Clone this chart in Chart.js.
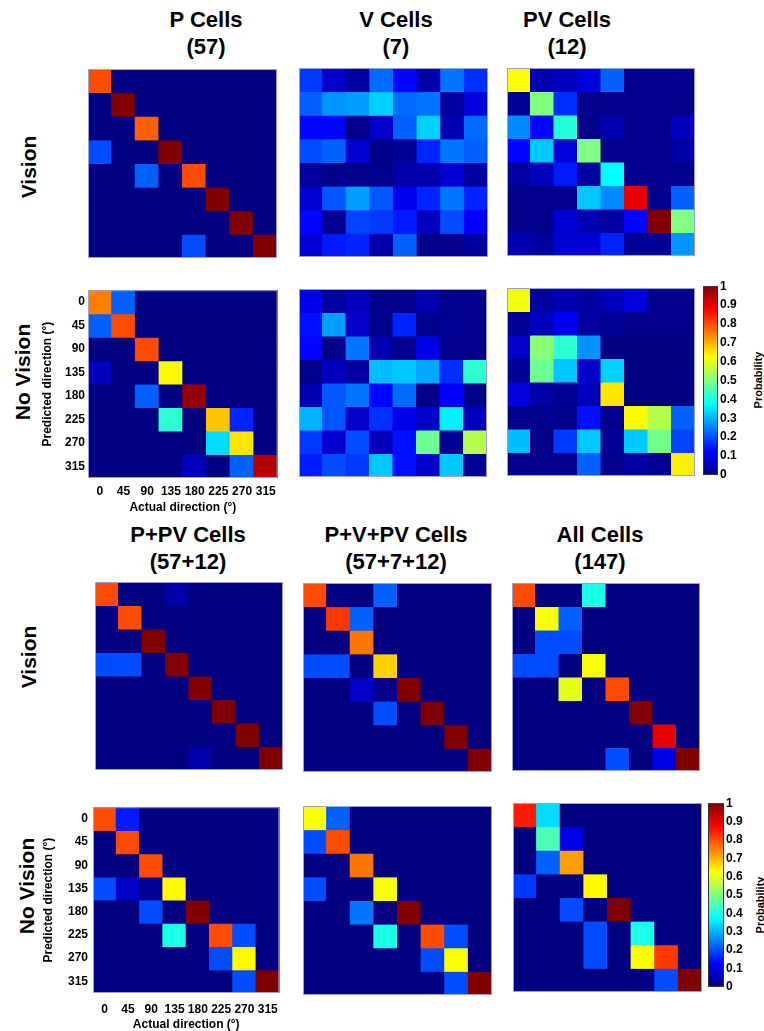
<!DOCTYPE html>
<html>
<head>
<meta charset="utf-8">
<script src="https://cdn.jsdelivr.net/npm/chart.js@4.4.1/dist/chart.umd.min.js"></script>
<style>
  body { margin: 0; background: #fff; width: 764px; height: 1031px; position: relative; overflow: hidden;
         font-family: "Liberation Sans", Arial, sans-serif; }
  .box { position: absolute; }
  .title { position: absolute; text-align: center; font-weight: bold; font-size: 22px; line-height: 27px;
           transform: translateX(-50%); white-space: nowrap; }
  .rowlab { position: absolute; font-weight: bold; font-size: 21px; white-space: nowrap;
            transform: translate(-50%, -50%) rotate(-90deg); }
  .cblab { position: absolute; font-weight: bold; font-size: 11px; white-space: nowrap;
           transform: translate(-50%, -50%) rotate(-90deg); }
</style>
</head>
<body>

<div class="title" style="left:206px;top:6px">P Cells<br>(57)</div>
<div class="title" style="left:396px;top:6px">V Cells<br>(7)</div>
<div class="title" style="left:567px;top:6px">PV Cells<br>(12)</div>
<div class="title" style="left:188px;top:521px">P+PV Cells<br>(57+12)</div>
<div class="title" style="left:396px;top:521px">P+V+PV Cells<br>(57+7+12)</div>
<div class="title" style="left:600px;top:521px">All Cells<br>(147)</div>

<div class="rowlab" style="left:29px;top:167px">Vision</div>
<div class="rowlab" style="left:23px;top:372px">No Vision</div>
<div class="rowlab" style="left:29px;top:657px">Vision</div>
<div class="rowlab" style="left:27px;top:886px">No Vision</div>

<div class="cblab" style="left:758px;top:380px">Probability</div>
<div class="cblab" style="left:760px;top:905px">Probability</div>

<script>
// directions (degrees), used for both axes
const dirLabels = ["0", "45", "90", "135", "180", "225", "270", "315"];
const cbTicks = [0, 0.1, 0.2, 0.3, 0.4, 0.5, 0.6, 0.7, 0.8, 0.9, 1];

// rows = predicted direction, columns = actual direction
const pVision = [
  [0.80, 0, 0, 0, 0, 0, 0, 0],
  [0, 1, 0, 0, 0, 0, 0, 0],
  [0, 0, 0.78, 0, 0, 0, 0, 0],
  [0.20, 0, 0, 1, 0, 0, 0, 0],
  [0, 0, 0.22, 0, 0.80, 0, 0, 0],
  [0, 0, 0, 0, 0, 1, 0, 0],
  [0, 0, 0, 0, 0, 0, 1, 0],
  [0, 0, 0, 0, 0.20, 0, 0, 1]
];
const vVision = [
  [0.18, 0.07, 0.03, 0.23, 0.13, 0.04, 0.24, 0.17],
  [0.22, 0.27, 0.28, 0.33, 0.23, 0.24, 0.03, 0.09],
  [0.13, 0.13, 0.01, 0.07, 0.22, 0.33, 0.05, 0.23],
  [0.20, 0.22, 0.08, 0.01, 0.02, 0.16, 0.24, 0.22],
  [0.03, 0.01, 0.01, 0.01, 0.04, 0.05, 0.08, 0.03],
  [0.08, 0.21, 0.28, 0.21, 0.11, 0.16, 0.24, 0.16],
  [0.13, 0.02, 0.19, 0.18, 0.15, 0.06, 0.20, 0.12],
  [0.08, 0.15, 0.16, 0.04, 0.22, 0.01, 0.01, 0.03]
];
const pvVision = [
  [0.62, 0.05, 0.06, 0.09, 0.22, 0.01, 0.01, 0.01],
  [0.02, 0.50, 0.17, 0.01, 0.01, 0.01, 0.01, 0.01],
  [0.26, 0.13, 0.41, 0.01, 0.05, 0.01, 0.01, 0.06],
  [0.13, 0.32, 0.09, 0.50, 0.01, 0.01, 0.01, 0.04],
  [0.03, 0.06, 0.15, 0.03, 0.375, 0.01, 0.01, 0.01],
  [0.01, 0.01, 0.01, 0.32, 0.26, 0.90, 0.01, 0.22],
  [0.01, 0.01, 0.08, 0.05, 0.03, 0.13, 1.00, 0.50],
  [0.05, 0.03, 0.08, 0.08, 0.16, 0.02, 0.02, 0.27]
];
const pNoVision = [
  [0.75, 0.22, 0, 0, 0, 0, 0, 0],
  [0.22, 0.80, 0, 0, 0, 0, 0, 0],
  [0, 0, 0.80, 0, 0, 0, 0, 0],
  [0.06, 0, 0, 0.63, 0, 0, 0, 0],
  [0, 0, 0.22, 0, 0.98, 0, 0, 0],
  [0, 0, 0, 0.42, 0, 0.68, 0.16, 0],
  [0, 0, 0, 0, 0, 0.34, 0.65, 0],
  [0, 0, 0, 0, 0.06, 0, 0.22, 0.95]
];
const vNoVision = [
  [0.11, 0.03, 0.06, 0.01, 0.01, 0.05, 0.01, 0.01],
  [0.14, 0.28, 0.07, 0.01, 0.16, 0.01, 0.02, 0.01],
  [0.13, 0.01, 0.24, 0.05, 0.01, 0.10, 0.01, 0.01],
  [0.01, 0.06, 0.03, 0.31, 0.32, 0.29, 0.17, 0.42],
  [0.05, 0.21, 0.24, 0.13, 0.23, 0.01, 0.12, 0.01],
  [0.30, 0.21, 0.07, 0.17, 0.10, 0.07, 0.36, 0.06],
  [0.18, 0.08, 0.20, 0.06, 0.14, 0.48, 0.02, 0.55],
  [0.15, 0.20, 0.18, 0.32, 0.14, 0.07, 0.32, 0.02]
];
const pvNoVision = [
  [0.61, 0.03, 0.05, 0.03, 0.06, 0.09, 0.01, 0.01],
  [0.02, 0.06, 0.11, 0.03, 0.02, 0.01, 0.01, 0.01],
  [0.07, 0.51, 0.42, 0.27, 0, 0, 0, 0],
  [0.02, 0.48, 0.32, 0.07, 0.33, 0, 0, 0],
  [0.09, 0.04, 0.02, 0.06, 0.65, 0, 0, 0],
  [0.01, 0.01, 0.01, 0.14, 0.01, 0.63, 0.55, 0.22],
  [0.31, 0.01, 0.18, 0.32, 0.02, 0.32, 0.49, 0.19],
  [0.01, 0.01, 0.01, 0.22, 0.01, 0.03, 0.02, 0.64]
];
const ppvVision = [
  [0.80, 0, 0, 0.04, 0, 0, 0, 0],
  [0, 0.80, 0, 0, 0, 0, 0, 0],
  [0, 0, 1, 0, 0, 0, 0, 0],
  [0.20, 0.20, 0, 1, 0, 0, 0, 0],
  [0, 0, 0, 0, 1, 0, 0, 0],
  [0, 0, 0, 0, 0, 1, 0, 0],
  [0, 0, 0, 0, 0, 0, 1, 0],
  [0, 0, 0, 0, 0.04, 0, 0, 1]
];
const pvpvVision = [
  [0.80, 0, 0, 0.22, 0, 0, 0, 0],
  [0, 0.82, 0.22, 0, 0, 0, 0, 0],
  [0, 0, 0.76, 0, 0, 0, 0, 0],
  [0.20, 0.20, 0, 0.67, 0, 0, 0, 0],
  [0, 0, 0.07, 0.01, 1, 0, 0, 0],
  [0, 0, 0, 0.20, 0, 1, 0, 0],
  [0, 0, 0, 0, 0, 0, 1, 0],
  [0, 0, 0, 0, 0, 0, 0, 1]
];
const allVision = [
  [0.80, 0, 0, 0.40, 0, 0, 0, 0],
  [0, 0.62, 0.22, 0, 0, 0, 0, 0],
  [0, 0.20, 0.20, 0, 0, 0, 0, 0],
  [0.20, 0.20, 0, 0.62, 0, 0, 0, 0],
  [0, 0, 0.60, 0, 0.80, 0, 0, 0],
  [0, 0, 0, 0, 0, 1, 0, 0],
  [0, 0, 0, 0, 0, 0, 0.90, 0],
  [0, 0, 0, 0, 0.20, 0, 0.10, 1]
];
const ppvNoVision = [
  [0.80, 0.15, 0, 0, 0, 0, 0, 0],
  [0, 0.80, 0, 0, 0, 0, 0, 0],
  [0, 0, 0.80, 0, 0, 0, 0, 0],
  [0.20, 0.07, 0.02, 0.63, 0, 0, 0, 0],
  [0, 0, 0.20, 0, 1, 0, 0, 0],
  [0, 0, 0, 0.40, 0, 0.80, 0.20, 0],
  [0, 0, 0, 0, 0, 0.20, 0.63, 0],
  [0, 0, 0, 0, 0, 0, 0.20, 1]
];
const pvpvNoVision = [
  [0.62, 0.22, 0, 0, 0, 0, 0, 0],
  [0.20, 0.80, 0, 0, 0, 0, 0, 0],
  [0, 0, 0.76, 0, 0, 0, 0, 0],
  [0.20, 0, 0, 0.62, 0, 0, 0, 0],
  [0, 0, 0.24, 0, 1, 0, 0, 0],
  [0, 0, 0, 0.40, 0, 0.80, 0.20, 0],
  [0, 0, 0, 0, 0, 0.20, 0.62, 0],
  [0, 0, 0, 0, 0, 0, 0.20, 1]
];
const allNoVision = [
  [0.85, 0.34, 0, 0, 0, 0, 0, 0],
  [0, 0.45, 0.10, 0, 0, 0, 0, 0],
  [0, 0.22, 0.72, 0, 0, 0, 0, 0],
  [0.18, 0, 0, 0.63, 0, 0, 0, 0],
  [0, 0, 0.20, 0, 1, 0, 0, 0],
  [0, 0, 0, 0.20, 0, 0.40, 0, 0],
  [0, 0, 0, 0.20, 0, 0.62, 0.82, 0],
  [0, 0, 0, 0, 0, 0, 0.20, 1]
];

// matlab "jet" colour map
function jet(v) {
  v = Math.max(0, Math.min(1, v));
  const c = t => Math.round(255 * Math.max(0, Math.min(1, t)));
  return "rgb(" + c(1.5 - Math.abs(4 * v - 3)) + "," + c(1.5 - Math.abs(4 * v - 2)) + "," + c(1.5 - Math.abs(4 * v - 1)) + ")";
}

// fills the plot area with the zero colour (hides hairline seams) and draws the axes box
const frame = {
  id: "frame",
  beforeDatasetsDraw(chart, args, opts) {
    if (!opts.fill) return;
    const a = chart.chartArea, ctx = chart.ctx;
    ctx.save();
    ctx.fillStyle = opts.fill;
    ctx.fillRect(a.left, a.top, a.width, a.height);
    ctx.restore();
  },
  afterDatasetsDraw(chart, args, opts) {
    const a = chart.chartArea, ctx = chart.ctx;
    ctx.save();
    ctx.strokeStyle = opts.color || "#9a9ac8";
    ctx.lineWidth = 1;
    ctx.strokeRect(a.left + 0.5, a.top + 0.5, a.width - 1, a.height - 1);
    ctx.restore();
  }
};

const tickFont = { family: "Liberation Sans", weight: "bold", size: 12 };

function addBox(left, top, w, h) {
  const div = document.createElement("div");
  div.className = "box";
  div.style.cssText = `left:${left}px;top:${top}px;width:${w}px;height:${h}px`;
  const cv = document.createElement("canvas");
  div.appendChild(cv);
  document.body.appendChild(div);
  return cv;
}

function heatmap(p) {
  const ax = p.axes;
  const padT = ax ? 8 : 0, padR = ax ? 4 : 0;
  const yw = ax ? ax.yw : 0, xh = ax ? ax.xh : 0;
  const cv = addBox(p.x - yw, p.y - padT, yw + p.size + padR, padT + p.size + xh);

  const datasets = p.data.map((row, r) => ({
    data: row.map(() => [r, r + 1]),
    backgroundColor: row.map(jet),
    borderWidth: 0,
    inflateAmount: 0.5,
    barPercentage: 1,
    categoryPercentage: 1,
    grouped: false
  }));

  new Chart(cv, {
    type: "bar",
    data: { labels: dirLabels, datasets },
    plugins: [frame],
    options: {
      animation: false,
      responsive: true,
      maintainAspectRatio: false,
      layout: { padding: { top: padT, right: padR, left: 0, bottom: 0 } },
      plugins: { legend: { display: false }, tooltip: { enabled: false },
                 frame: { color: "#a0a0d0", fill: jet(0) } },
      scales: {
        x: {
          display: !!ax,
          grid: { display: false, drawTicks: false },
          border: { display: false },
          ticks: { font: tickFont, color: "#000", padding: ax ? ax.xTickPad : 0, maxRotation: 0, autoSkip: false },
          title: { display: !!ax, text: "Actual direction (°)", color: "#000", font: tickFont,
                   padding: { top: 0, bottom: ax ? ax.xTitlePad : 0 } },
          afterFit: s => { if (ax) s.height = xh; }
        },
        y: {
          display: !!ax,
          min: 0, max: 8, reverse: true,
          grid: { display: false, drawTicks: false },
          border: { display: false },
          afterBuildTicks: s => { s.ticks = dirLabels.map((d, i) => ({ value: i + 0.5 })); },
          ticks: { font: tickFont, color: "#000", padding: ax ? ax.yTickPad : 0,
                   callback: v => dirLabels[Math.floor(v)] },
          title: { display: !!ax, text: "Predicted direction (°)", color: "#000", font: tickFont,
                   padding: { top: ax ? ax.yTitlePad : 0, bottom: 0 } },
          afterFit: s => { if (ax) s.width = yw; }
        }
      }
    }
  });
}

function colorbar(c) {
  const cv = addBox(c.x, c.y - 8, c.w + c.lw, c.h + 16);
  new Chart(cv, {
    type: "bar",
    data: {
      labels: [""],
      datasets: [{
        data: [[0, 1]],
        barPercentage: 1,
        categoryPercentage: 1,
        borderWidth: 0,
        backgroundColor: ctx => {
          const a = ctx.chart.chartArea;
          if (!a) return jet(0);
          const g = ctx.chart.ctx.createLinearGradient(0, a.bottom, 0, a.top);
          [0, 0.125, 0.375, 0.625, 0.875, 1].forEach(s => g.addColorStop(s, jet(s)));
          return g;
        }
      }]
    },
    plugins: [frame],
    options: {
      animation: false,
      responsive: true,
      maintainAspectRatio: false,
      layout: { padding: { top: 8, bottom: 8, left: 0, right: 0 } },
      plugins: { legend: { display: false }, tooltip: { enabled: false }, frame: { color: "#333" } },
      scales: {
        x: { display: false },
        y: {
          position: "right",
          min: 0, max: 1,
          grid: { display: false, drawTicks: false },
          border: { display: false },
          afterBuildTicks: s => { s.ticks = cbTicks.map(v => ({ value: v })); },
          ticks: { font: { family: "Liberation Sans", weight: "bold", size: 12 }, color: "#000", padding: 2,
                   callback: v => String(v) },
          afterFit: s => { s.width = c.lw; }
        }
      }
    }
  });
}

const panels = [
  { data: pVision, x: 88, y: 69, size: 189 },
  { data: vVision, x: 299, y: 68, size: 189 },
  { data: pvVision, x: 507, y: 68, size: 188 },
  { data: pNoVision, x: 88, y: 288, size: 190,
    axes: { yw: 58, xh: 40, yTickPad: 3, yTitlePad: 10, xTickPad: 6, xTitlePad: 3 } },
  { data: vNoVision, x: 299, y: 289, size: 188 },
  { data: pvNoVision, x: 507, y: 288, size: 188 },
  { data: ppvVision, x: 95, y: 582, size: 188 },
  { data: pvpvVision, x: 303, y: 583, size: 189 },
  { data: allVision, x: 512, y: 583, size: 188 },
  { data: ppvNoVision, x: 93, y: 803, size: 190,
    axes: { yw: 60, xh: 39, yTickPad: 5, yTitlePad: 8, xTickPad: 9, xTitlePad: 0 } },
  { data: pvpvNoVision, x: 303, y: 806, size: 189 },
  { data: allNoVision, x: 513, y: 803, size: 189 }
];
panels.forEach(heatmap);

colorbar({ x: 703, y: 285, w: 15, h: 191, lw: 46 });
colorbar({ x: 708, y: 802, w: 16, h: 186, lw: 40 });
</script>
</body>
</html>
